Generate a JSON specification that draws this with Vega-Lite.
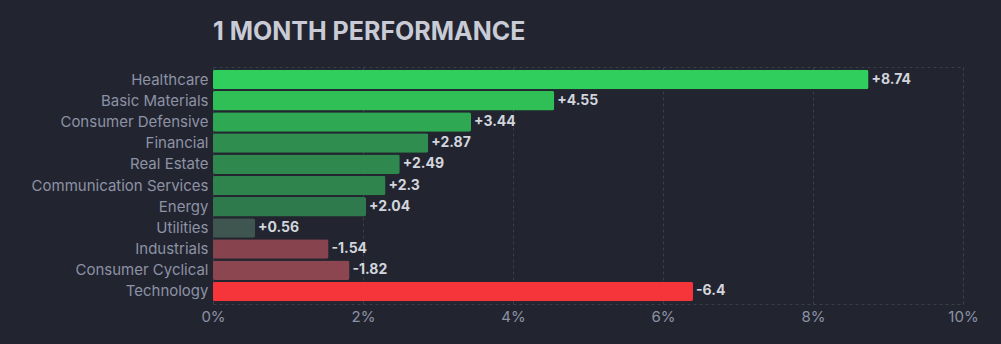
{
  "$schema": "https://vega.github.io/schema/vega-lite/v6.json",
  "width": 750,
  "height": 237,
  "autosize": {"type": "none"},
  "padding": {"left": 213, "top": 67, "right": 38, "bottom": 40},
  "background": "#22252f",
  "title": {
    "text": "1 MONTH PERFORMANCE",
    "anchor": "start",
    "frame": "group",
    "fontSize": 25,
    "font": "Inter",
    "fontWeight": "bold",
    "color": "#c9cbd6",
    "offset": 22
  },
  "config": {
    "view": {"stroke": "#3b3f4b", "strokeDash": [3, 3]},
    "font": "Inter"
  },
  "data": {
    "values": [
      {"sector": "Healthcare", "value": 8.74, "label": "+8.74"},
      {"sector": "Basic Materials", "value": 4.55, "label": "+4.55"},
      {"sector": "Consumer Defensive", "value": 3.44, "label": "+3.44"},
      {"sector": "Financial", "value": 2.87, "label": "+2.87"},
      {"sector": "Real Estate", "value": 2.49, "label": "+2.49"},
      {"sector": "Communication Services", "value": 2.3, "label": "+2.3"},
      {"sector": "Energy", "value": 2.04, "label": "+2.04"},
      {"sector": "Utilities", "value": 0.56, "label": "+0.56"},
      {"sector": "Industrials", "value": 1.54, "label": "-1.54"},
      {"sector": "Consumer Cyclical", "value": 1.82, "label": "-1.82"},
      {"sector": "Technology", "value": 6.4, "label": "-6.4"}
    ]
  },
  "encoding": {
    "y": {
      "field": "sector",
      "type": "nominal",
      "sort": null,
      "scale": {"paddingInner": 0.08, "paddingOuter": 0.13},
      "axis": {
        "title": null,
        "domain": false,
        "ticks": false,
        "labelFontSize": 15,
        "labelColor": "#8d92a6",
        "labelPadding": 5,
        "labelFont": "Inter"
      }
    },
    "x": {
      "field": "value",
      "type": "quantitative",
      "scale": {"domain": [0, 10], "nice": false},
      "axis": {
        "title": null,
        "values": [0, 2, 4, 6, 8, 10],
        "labelExpr": "datum.value + '%'",
        "labelFlush": false,
        "domain": false,
        "ticks": false,
        "grid": true,
        "gridColor": "#3b3f4b",
        "gridDash": [3, 3],
        "labelFontSize": 15,
        "labelColor": "#8d92a6",
        "labelPadding": 5,
        "labelFont": "Inter"
      }
    }
  },
  "layer": [
    {
      "mark": {"type": "bar", "cornerRadius": 2},
      "encoding": {
        "color": {
          "field": "sector",
          "type": "nominal",
          "legend": null,
          "scale": {
            "domain": ["Healthcare", "Basic Materials", "Consumer Defensive", "Financial", "Real Estate", "Communication Services", "Energy", "Utilities", "Industrials", "Consumer Cyclical", "Technology"],
            "range": ["#30ce5c", "#2fbf56", "#2ea852", "#2f8e4f", "#2f884e", "#2f844e", "#2f7a4c", "#3e5550", "#87444f", "#8c4650", "#f6353b"]
          }
        }
      }
    },
    {
      "mark": {"type": "text", "align": "left", "dx": 3, "fontSize": 14, "fontWeight": "bold", "color": "#d3d5de", "font": "Inter"},
      "encoding": {"text": {"field": "label"}}
    }
  ]
}
